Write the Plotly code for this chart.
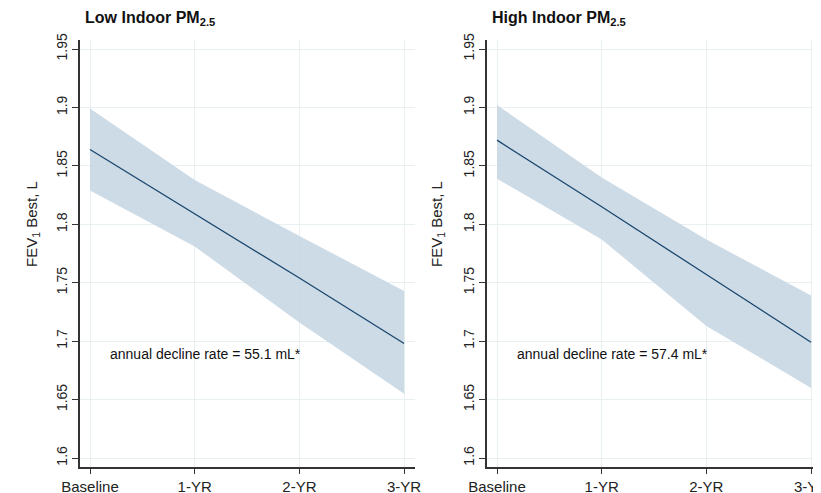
import plotly.graph_objects as go

timepoints = ["Baseline", "1-YR", "2-YR", "3-YR"]
x_pos = [0, 1, 2, 3]

low_mean = [1.864, 1.809, 1.754, 1.698]
low_upper = [1.899, 1.838, 1.790, 1.743]
low_lower = [1.829, 1.781, 1.716, 1.655]

high_mean = [1.872, 1.815, 1.757, 1.699]
high_upper = [1.902, 1.840, 1.787, 1.739]
high_lower = [1.839, 1.787, 1.713, 1.660]

y_ticks = [1.6, 1.65, 1.7, 1.75, 1.8, 1.85, 1.9, 1.95]
y_tick_text = ["1.6", "1.65", "1.7", "1.75", "1.8", "1.85", "1.9", "1.95"]

panel_titles = ["<b>Low Indoor PM</b><sub><b>2.5</b></sub>", "<b>High Indoor PM</b><sub><b>2.5</b></sub>"]
decline_text = ["annual decline rate = 55.1 mL*", "annual decline rate = 57.4 mL*"]

band_color = "rgba(196,213,226,0.85)"
line_color = "#1a476f"
grid_color = "#e8f0f2"
axis_color = "#333333"
font_family = "Liberation Sans, Arial, sans-serif"

W, H = 813, 485  # page body adds an 8px offset

fig = go.Figure()

panels = [
    (low_mean, low_upper, low_lower, "x", "y"),
    (high_mean, high_upper, high_lower, "x2", "y2"),
]
for mean, up, lo, xa, ya in panels:
    fig.add_trace(go.Scatter(x=x_pos, y=up, mode="lines", line=dict(width=0, color=band_color),
                             xaxis=xa, yaxis=ya, showlegend=False, hoverinfo="skip"))
    fig.add_trace(go.Scatter(x=x_pos, y=lo, mode="lines", line=dict(width=0, color=band_color),
                             fill="tonexty", fillcolor=band_color,
                             xaxis=xa, yaxis=ya, showlegend=False, hoverinfo="skip"))
    fig.add_trace(go.Scatter(x=x_pos, y=mean, mode="lines", line=dict(width=1.3, color=line_color),
                             xaxis=xa, yaxis=ya, showlegend=False))

x_dom = [[72 / W, 407 / W], [479 / W, 1.0]]
y_dom = [1 - 459 / H, 1 - 32 / H]

common_x = dict(tickmode="array", tickvals=x_pos, ticktext=timepoints,
                showgrid=True, gridcolor=grid_color, gridwidth=1, zeroline=False,
                showline=True, linecolor=axis_color, linewidth=1.5, automargin=False,
                ticks="outside", ticklen=5, tickwidth=1.3, tickcolor=axis_color,
                ticklabeloverflow="allow",
                tickfont=dict(size=15, color="#222", family=font_family), fixedrange=True)
common_y = dict(range=[1.5923, 1.9577], tickmode="array", tickvals=y_ticks, ticktext=y_tick_text,
                showgrid=True, gridcolor=grid_color, gridwidth=1, zeroline=False,
                showline=True, linecolor=axis_color, linewidth=1.5, automargin=False,
                ticks="outside", ticklen=6, tickwidth=1.3, tickcolor=axis_color, tickangle=-90,
                tickfont=dict(size=14, color="#222", family=font_family), fixedrange=True)

fig.update_layout(
    width=W, height=H,
    margin=dict(l=0, r=0, t=0, b=0, autoexpand=False),
    paper_bgcolor="white", plot_bgcolor="white",
    font=dict(family=font_family, color="#111"),
    xaxis=dict(domain=x_dom[0], anchor="y", range=[-0.0955, 3.104], **common_x),
    yaxis=dict(domain=y_dom, anchor="x", **common_y),
    xaxis2=dict(domain=x_dom[1], anchor="y2", range=[-0.0955, 3.095], **common_x),
    yaxis2=dict(domain=y_dom, anchor="x2", **common_y),
)

annotations = []
title_x = [75 / W, 482 / W]
ytitle_x = [24 / W, 429 / W]
for i in range(2):
    annotations.append(dict(text=panel_titles[i], xref="paper", yref="paper", x=title_x[i], y=1 - 10 / H,
                            xanchor="left", yanchor="middle", showarrow=False,
                            font=dict(size=16, color="#111", family=font_family)))
    annotations.append(dict(text="FEV<sub>1</sub> Best, L", xref="paper", yref="paper", x=ytitle_x[i],
                            y=1 - 216 / H, xanchor="center", yanchor="middle", textangle=-90,
                            showarrow=False, font=dict(size=15, color="#222", family=font_family)))
    xa = "x" if i == 0 else "x2"
    ya = "y" if i == 0 else "y2"
    annotations.append(dict(text=decline_text[i], xref=xa, yref=ya, x=0.17, y=1.689,
                            xanchor="left", yanchor="middle", showarrow=False,
                            font=dict(size=14, color="#111", family=font_family)))
fig.update_layout(annotations=annotations)

fig.write_html("out.html")
